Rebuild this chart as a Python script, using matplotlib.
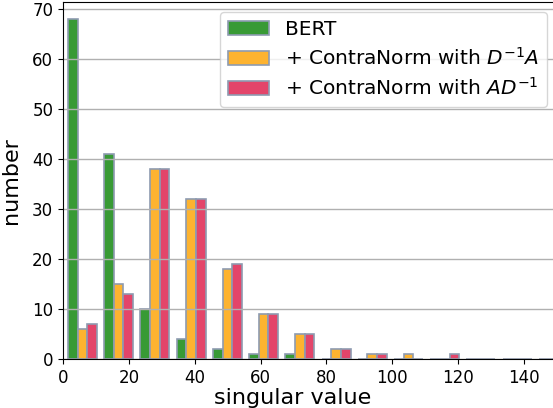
import numpy as np
import matplotlib
matplotlib.use("Agg")
import matplotlib.pyplot as plt

# histogram bins (singular value) and counts per bin
bin_edges = np.arange(14 + 1) * 11.0 + 0.4
bert = [68, 41, 10, 4, 2, 1, 1, 0, 0, 0, 0, 0, 0, 0]
cn_d1a = [6, 15, 38, 32, 18, 9, 5, 2, 1, 1, 0, 0, 0, 0]
cn_ad1 = [7, 13, 38, 32, 19, 9, 5, 2, 1, 0, 1, 0, 0, 0]
labels = ["BERT", r"+ ContraNorm with $D^{-1}A$", r"+ ContraNorm with $AD^{-1}$"]
colors = ["#389a35", "#fdb330", "#e3456a"]

centers = (bin_edges[:-1] + bin_edges[1:]) / 2

fig = plt.figure(figsize=(5.53, 4.08), dpi=100)
ax = fig.add_axes([63 / 553, 49 / 408, (557 - 63) / 553, 357 / 408])

ax.hist([centers, centers, centers], bins=bin_edges,
        weights=[bert, cn_d1a, cn_ad1], color=colors, label=labels,
        edgecolor="#8e9bb0", linewidth=1.2)

ax.set_xlim(0, 150)
ax.set_ylim(0, 71.4)
ax.set_xticks(range(0, 141, 20))
ax.set_yticks(range(0, 71, 10))
ax.tick_params(labelsize=12)
ax.grid(axis="y", color="#b0b0b0", linewidth=1)
ax.set_xlabel("singular value", fontsize=16)
ax.set_ylabel("number", fontsize=16)
ax.xaxis.set_label_coords((293 - 63) / (557 - 63), -0.08)
ax.yaxis.set_label_coords(-0.085, 0.5)
ax.legend(loc="upper right", fontsize=14.5, labelspacing=0.4)

fig.savefig("out.png", dpi=100)
